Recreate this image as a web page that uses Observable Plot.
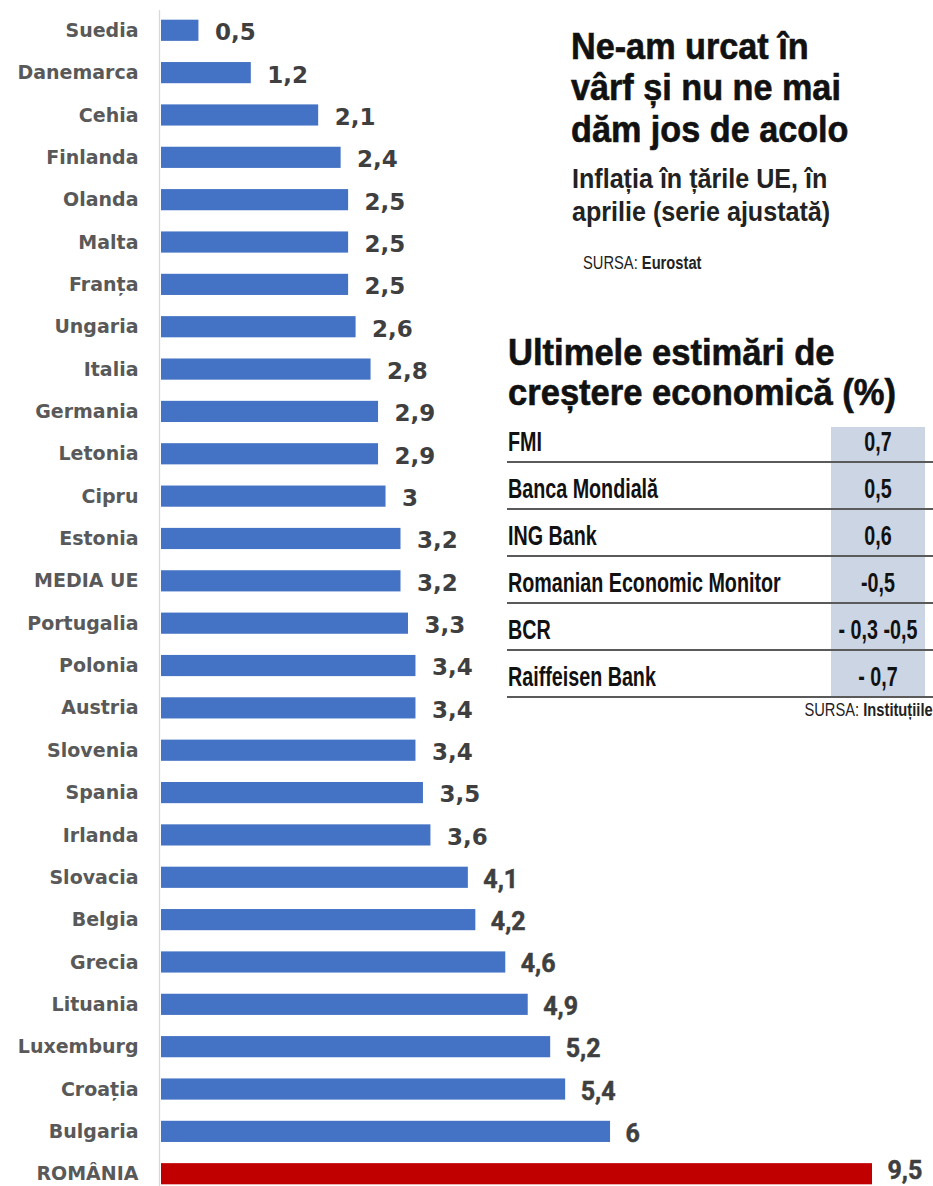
<!DOCTYPE html>
<html>
<head>
<meta charset="utf-8">
<script src="https://cdn.jsdelivr.net/npm/d3@7"></script>
<script src="https://cdn.jsdelivr.net/npm/@observablehq/plot@0.6"></script>
<style>
  html, body { margin: 0; padding: 0; background: #fff; }
  #wrap { position: relative; width: 933px; height: 1186px; overflow: hidden; background: #fff; }
  #wrap svg { position: absolute; left: 0; top: 0; }
  .ov { position: absolute; white-space: nowrap; }
</style>
</head>
<body>
<div id="wrap"></div>
<script>
// ---------- DATA ----------
const countries = ["Suedia","Danemarca","Cehia","Finlanda","Olanda","Malta","Franța","Ungaria","Italia","Germania","Letonia","Cipru","Estonia","MEDIA UE","Portugalia","Polonia","Austria","Slovenia","Spania","Irlanda","Slovacia","Belgia","Grecia","Lituania","Luxemburg","Croația","Bulgaria","ROMÂNIA"];
const inflation = [0.5,1.2,2.1,2.4,2.5,2.5,2.5,2.6,2.8,2.9,2.9,3,3.2,3.2,3.3,3.4,3.4,3.4,3.5,3.6,4.1,4.2,4.6,4.9,5.2,5.4,6,9.5];
const highlight = "ROMÂNIA";

const institutions = ["FMI","Banca Mondială","ING Bank","Romanian Economic Monitor","BCR","Raiffeisen Bank"];
const estimates = ["0,7","0,5","0,6","-0,5","- 0,3 -0,5","- 0,7"];

const titleLines = ["Ne-am urcat în","vârf și nu ne mai","dăm jos de acolo"];
const subtitleLines = ["Inflația în țările UE, în","aprilie (serie ajustată)"];
const source1 = ["SURSA:","Eurostat"];
const tableTitleLines = ["Ultimele estimări de","creștere economică (%)"];
const source2 = ["SURSA:","Instituțiile"];

// ---------- CHART ----------
const rows = countries.map((c, i) => ({country: c, value: inflation[i], hi: c === highlight, idx: i}));
const fmt = v => String(v).replace(".", ",");
const topRows = rows.filter(d => d.idx < 20);
const bottomRows = rows.filter(d => d.idx >= 20 && !d.hi);
const hiRows = rows.filter(d => d.hi);

const valueStyle = {textAnchor: "start", fill: "#3f3f3f", stroke: "#3f3f3f", strokeWidth: 0.5, fontFamily: "Roboto", fontWeight: 700, fontSize: 25};

const chart = Plot.plot({
  width: 933,
  height: 1186,
  marginTop: 0, marginBottom: 0, marginLeft: 0, marginRight: 0,
  style: {background: "transparent"},
  x: {domain: [0, 9.5], range: [161, 872], axis: null},
  y: {domain: countries, range: [9.1, 1194.9], paddingInner: 0.5, paddingOuter: 0.25, round: false, axis: null},
  color: {type: "identity"},
  marks: [
    Plot.ruleX([0], {stroke: "#d9d9d9", strokeWidth: 1.3, dx: -2, insetTop: 10}),
    Plot.barX(rows, {x: "value", y: "country", fill: d => d.hi ? "#c00000" : "#4472c4"}),
    Plot.text(rows, {x: () => 0, y: "country", text: "country", textAnchor: "end", dx: -23, dy: 0, fill: "#595959", fontFamily: "DejaVu Sans", fontWeight: 700, fontSize: 19}),
    Plot.text(topRows, {x: "value", y: "country", text: d => fmt(d.value), textAnchor: "start", dx: 16, dy: 2, fill: "#3f3f3f", fontFamily: "DejaVu Sans", fontWeight: 700, fontSize: 23}),
    Plot.text(bottomRows, {x: "value", y: "country", text: d => fmt(d.value), dx: 15, dy: 2, ...valueStyle}),
    Plot.text(hiRows, {x: "value", y: "country", text: d => fmt(d.value), dx: 15, dy: -3, ...valueStyle})
  ]
});
const wrap = document.getElementById("wrap");
wrap.appendChild(chart);

// ---------- OVERLAY TEXT ----------
const FAM = "Liberation Sans";
const ASC = 0.3465; // (ascent - descent)/2 for Liberation Sans
function place(html, x, baseline, o) {
  const size = o.size;
  const div = document.createElement("div");
  div.className = "ov";
  div.innerHTML = html;
  div.style.fontFamily = `"${FAM}", Arial, sans-serif`;
  div.style.fontSize = size + "px";
  div.style.lineHeight = size + "px";
  div.style.fontWeight = o.weight || 700;
  div.style.color = o.color || "#111";
  if (o.ls) div.style.letterSpacing = o.ls + "px";
  if (o.stroke) div.style.webkitTextStroke = o.stroke + "px " + (o.color || "#111");
  const top = baseline - size / 2 - ASC * size;
  div.style.top = top + "px";
  const sx = o.sx || 1;
  if (o.anchor === "end") {
    div.style.right = (933 - x) + "px";
    div.style.transformOrigin = "right center";
  } else if (o.anchor === "middle") {
    div.style.left = (x - 150) + "px";
    div.style.width = "300px";
    div.style.textAlign = "center";
    div.style.transformOrigin = "center center";
  } else {
    div.style.left = x + "px";
    div.style.transformOrigin = "left center";
  }
  if (sx !== 1) div.style.transform = `scaleX(${sx})`;
  wrap.appendChild(div);
  return div;
}
function box(x, y, w, h, bg) {
  const d = document.createElement("div");
  d.style.position = "absolute";
  d.style.left = x + "px"; d.style.top = y + "px";
  d.style.width = w + "px"; d.style.height = h + "px";
  d.style.background = bg;
  wrap.appendChild(d);
}

// Title block
titleLines.forEach((t, i) => place(t, 571, 59.5 + i * 41.3, {size: 36, color: "#111", sx: 0.95, stroke: 0.6}));
subtitleLines.forEach((t, i) => place(t, 572, 188.5 + i * 33, {size: 27, color: "#222", sx: 0.93}));
place(`<span style="font-weight:400">${source1[0]}</span> <b>${source1[1]}</b>`, 583, 270, {size: 17.5, color: "#222", weight: 400, sx: 0.84});

// Table block
tableTitleLines.forEach((t, i) => place(t, 508, 365 + i * 40, {size: 36, color: "#111", sx: 0.96, stroke: 0.6}));
const rowStep = 47;
box(831, 427, 94, 270, "#ccd5e3");
institutions.forEach((name, i) => {
  place(name, 508, 452 + i * rowStep, {size: 27, color: "#111", sx: 0.73});
  place(estimates[i], 878, 452 + i * rowStep, {size: 27, color: "#111", sx: 0.73, anchor: "middle"});
  box(507, 461 + i * rowStep, 426, 1.6, "#5a5a5a");
});
place(`<span style="font-weight:400">${source2[0]}</span> <b>${source2[1]}</b>`, 933, 717, {size: 17.5, color: "#222", weight: 400, anchor: "end", sx: 0.84});
</script>
</body>
</html>
